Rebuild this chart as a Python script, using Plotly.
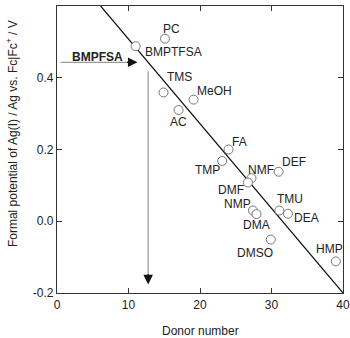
import plotly.graph_objects as go

# solvent data: donor number vs formal potential (V)
solvents = ["BMPTFSA", "PC", "TMS", "MeOH", "AC", "FA", "TMP", "NMF", "DEF",
            "DMF", "NMP", "DMA", "TMU", "DEA", "DMSO", "HMP"]
donor_num = [11.0, 15.1, 14.9, 19.1, 17.0, 24.0, 23.1, 27.2, 31.0,
             26.7, 27.4, 27.9, 31.1, 32.3, 29.9, 39.0]
potential = [0.488, 0.509, 0.359, 0.339, 0.310, 0.200, 0.168, 0.120, 0.138,
             0.108, 0.030, 0.020, 0.030, 0.021, -0.051, -0.112]

# regression line end points
fit_x = [6.1, 40.0]
fit_y = [0.6, -0.2]

# BMPFSA guide arrows
h_arrow_x = [0.5, 11.0]
h_arrow_y = [0.443, 0.443]
v_arrow_x = [12.75, 12.75]
v_arrow_y = [0.418, -0.165]

x_ticks = [0, 10, 20, 30, 40]
y_ticks = [0.6, 0.4, 0.2, 0.0, -0.2]
y_ticktext = ["0.6", "0.4", "0.2", "0.0", "-0.2"]

# label offsets in px (dx, dy up)
label_shift = {
    "PC": (7, 10), "BMPTFSA": (38, -6), "TMS": (16, 15), "MeOH": (21, 9),
    "AC": (0, -12), "FA": (11, 8), "TMP": (-15, -9), "NMF": (10, 8),
    "DEF": (15, 10), "DMF": (-17, -7), "NMP": (-15, 6), "DMA": (0, -11),
    "TMU": (11, 11), "DEA": (19, -4), "DMSO": (-16, -13), "HMP": (-6, 12),
}

FONT = "Arial, Liberation Sans, sans-serif"
INK = "#222222"

fig = go.Figure()

fig.add_trace(go.Scatter(x=fit_x, y=fit_y, mode="lines",
                         line=dict(color="#111111", width=1.2), hoverinfo="skip"))
fig.add_trace(go.Scatter(x=h_arrow_x, y=h_arrow_y, mode="lines",
                         line=dict(color="#999999", width=1.2), hoverinfo="skip"))
fig.add_trace(go.Scatter(x=v_arrow_x, y=v_arrow_y, mode="lines",
                         line=dict(color="#999999", width=1.2), hoverinfo="skip"))
fig.add_trace(go.Scatter(x=donor_num, y=potential, mode="markers",
                         marker=dict(symbol="circle", size=9, color="white",
                                     line=dict(color="#777777", width=1)),
                         text=solvents))

annotations = []
for name, xv, yv in zip(solvents, donor_num, potential):
    dx, dy = label_shift[name]
    annotations.append(dict(x=xv, y=yv, text=name, showarrow=False,
                            xshift=dx, yshift=dy,
                            font=dict(family=FONT, size=12, color=INK)))

# black arrow heads
annotations.append(dict(x=11.26, y=0.443, ax=-12, ay=0, axref="pixel", ayref="pixel",
                        showarrow=True, arrowhead=2, arrowsize=1.6, arrowwidth=1.2,
                        arrowcolor="#111111", text=""))
annotations.append(dict(x=12.75, y=-0.176, ax=0, ay=-12, axref="pixel", ayref="pixel",
                        showarrow=True, arrowhead=2, arrowsize=1.6, arrowwidth=1.2,
                        arrowcolor="#111111", text=""))
annotations.append(dict(x=5.6, y=0.457, text="<b>BMPFSA</b>", showarrow=False,
                        font=dict(family=FONT, size=12, color=INK)))

# axis titles placed by hand
annotations.append(dict(xref="paper", yref="paper", x=0.5, y=-0.132,
                        xanchor="center", yanchor="middle",
                        text="Donor number", showarrow=False,
                        font=dict(family=FONT, size=12, color=INK)))
annotations.append(dict(xref="paper", yref="paper", x=-0.157, y=0.554, textangle=-90,
                        xanchor="center", yanchor="middle",
                        text="Formal potential of Ag(I) / Ag vs. Fc|Fc<sup>+</sup> / V",
                        showarrow=False, font=dict(family=FONT, size=12, color=INK)))

fig.update_layout(annotations=annotations)

axis_common = dict(showline=True, linecolor="#333333", linewidth=1.2, mirror="ticks",
                   ticks="inside", ticklen=5, tickcolor="#333333", tickwidth=1.2,
                   showgrid=False, zeroline=False, automargin=False,
                   tickfont=dict(family=FONT, size=12, color=INK))

fig.update_xaxes(range=[0, 40], tickvals=x_ticks, **axis_common)
fig.update_yaxes(range=[-0.2, 0.6], tickvals=y_ticks, ticktext=y_ticktext,
                 **axis_common)

fig.update_layout(width=350, height=338, showlegend=False,
                  template="plotly_white",
                  plot_bgcolor="white", paper_bgcolor="white",
                  margin=dict(l=57, r=7, t=6, b=45, pad=0))

# page body has a default 8px margin; drop it so the figure sits at 0,0
fig.write_html("out.html", config={"displayModeBar": False},
               post_script="document.body.style.margin='0';")
